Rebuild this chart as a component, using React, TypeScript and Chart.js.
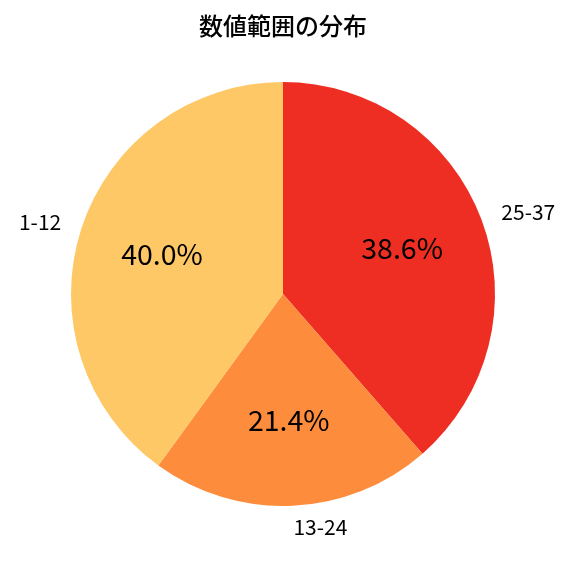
import React, { useEffect, useRef } from "react";
import { Chart, registerables } from "chart.js";

Chart.register(...registerables);

// data
const categories = ["25-37", "13-24", "1-12"];
const counts = [27, 15, 28];
const sliceColors = ["#EE2E22", "#FD8D3C", "#FEC866"];
const chartTitle = "数値範囲の分布";

const FONT = "'Noto Sans CJK JP', 'Noto Sans', sans-serif";

// draws the title, outer labels and percentages like matplotlib's pie
const pieLabels = {
  id: "pieLabels",
  afterDraw(chart: any) {
    const ctx = chart.ctx;
    const meta = chart.getDatasetMeta(0);
    const total = counts.reduce((a, b) => a + b, 0);
    ctx.save();
    ctx.fillStyle = "#000";
    ctx.textBaseline = "middle";

    ctx.font = `500 24px ${FONT}`;
    ctx.textAlign = "center";
    ctx.fillText(chartTitle, 283, 26);

    meta.data.forEach((arc: any, i: number) => {
      const mid = (arc.startAngle + arc.endAngle) / 2;
      const r = arc.outerRadius;
      const lx = Math.cos(mid) * r * 1.1;
      const ly = Math.sin(mid) * r * 1.1;
      ctx.font = `21px ${FONT}`;
      ctx.textAlign = lx > 0 ? "left" : "right";
      ctx.fillText(categories[i], arc.x + lx, arc.y + ly);

      const pct = ((counts[i] / total) * 100).toFixed(1) + "%";
      ctx.font = `28.5px ${FONT}`;
      ctx.textAlign = "center";
      ctx.fillText(pct, arc.x + Math.cos(mid) * r * 0.6, arc.y + Math.sin(mid) * r * 0.6 - 1);
    });
    ctx.restore();
  },
};

const App: React.FC = () => {
  const canvasRef = useRef<HTMLCanvasElement | null>(null);
  const chartRef = useRef<Chart | null>(null);

  useEffect(() => {
    document.body.style.margin = "0";
    if (chartRef.current) chartRef.current.destroy();
    if (canvasRef.current) {
      chartRef.current = new Chart(canvasRef.current, {
        type: "pie",
        data: {
          labels: categories,
          datasets: [
            {
              data: counts,
              backgroundColor: sliceColors,
              borderWidth: 0,
            },
          ],
        },
        options: {
          responsive: false,
          animation: false,
          layout: { padding: { left: 71, right: 81, top: 82, bottom: 70 } },
          plugins: {
            legend: { display: false },
            tooltip: { enabled: false },
            title: { display: false },
          },
        },
        plugins: [pieLabels],
      });
    }
    return () => {
      if (chartRef.current) {
        chartRef.current.destroy();
        chartRef.current = null;
      }
    };
  }, []);

  return (
    <div style={{ width: 576, height: 576, background: "#fff" }}>
      <canvas ref={canvasRef} width={576} height={576} />
    </div>
  );
};

export default App;
